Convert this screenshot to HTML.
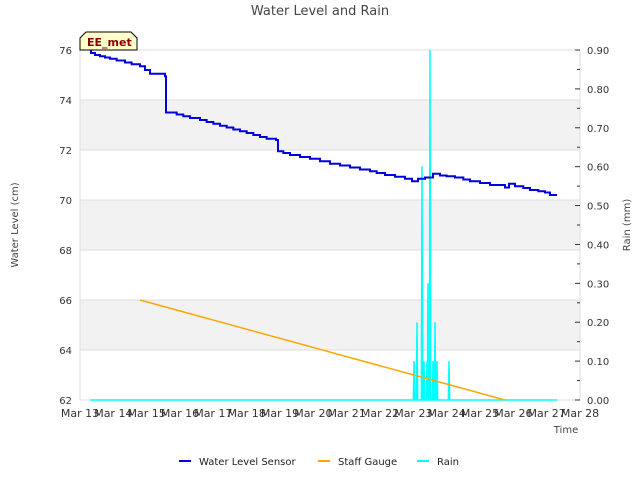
<!DOCTYPE html>
<html><head><meta charset="utf-8"><style>
body{margin:0;background:#fff;font-family:"Liberation Sans","DejaVu Sans",sans-serif;}
svg text{font-family:"DejaVu Sans","Liberation Sans",sans-serif;}
</style></head><body>
<svg id="chart" width="640" height="480" xmlns="http://www.w3.org/2000/svg">
<text x="320" y="15" text-anchor="middle" font-size="13" fill="#444">Water Level and Rain</text>
<g id="bands"></g><g id="grid"></g>
<rect x="80" y="50" width="500" height="350" fill="none" stroke="#ddd"/>
<g id="axes"></g><g id="series"></g>
<g>
<path d="M80,50 L80,38 L86,32 L131,32 L137,38 L137,50 Z" fill="#ffffcc" stroke="#000" stroke-width="1"/>
<text x="87" y="46" font-size="11" font-weight="bold" fill="#8b0000">EE_met</text></g>
<text x="566" y="433" text-anchor="middle" font-size="10" fill="#444">Time</text>
<text x="18" y="225" text-anchor="middle" font-size="10" fill="#444" transform="rotate(-90 18 225)">Water Level (cm)</text>
<text x="630" y="225" text-anchor="middle" font-size="10" fill="#444" transform="rotate(-90 630 225)">Rain (mm)</text>
<g>
<g><line x1="179" y1="461" x2="191" y2="461" stroke="#0000dd" stroke-width="2"/><text x="199" y="465" font-size="10" fill="#222">Water Level Sensor</text></g>
<g><line x1="318" y1="461" x2="330" y2="461" stroke="orange" stroke-width="2"/><text x="338" y="465" font-size="10" fill="#222">Staff Gauge</text></g>
<g><line x1="417" y1="461" x2="429" y2="461" stroke="cyan" stroke-width="2"/><text x="437" y="465" font-size="10" fill="#222">Rain</text></g>
</g>
</svg>
<script>
const xTickLabels=["Mar 13","Mar 14","Mar 15","Mar 16","Mar 17","Mar 18","Mar 19","Mar 20","Mar 21","Mar 22","Mar 23","Mar 24","Mar 25","Mar 26","Mar 27","Mar 28"];
const yTicks=[62,64,66,68,70,72,74,76];
const y2Ticks=[0,0.1,0.2,0.3,0.4,0.5,0.6,0.7,0.8,0.9];
const waterDays=[0.3,0.33,0.45,0.6,0.75,0.9,1.1,1.35,1.55,1.8,1.95,2.1,2.55,2.58,2.9,3.1,3.3,3.6,3.8,4.0,4.2,4.4,4.6,4.8,5.0,5.2,5.4,5.6,5.88,5.94,6.1,6.3,6.6,6.9,7.2,7.5,7.8,8.1,8.4,8.7,8.9,9.15,9.45,9.75,9.96,10.14,10.35,10.59,10.8,11.0,11.25,11.5,11.7,12.0,12.3,12.75,12.87,13.05,13.3,13.5,13.75,13.95,14.1,14.31];
const waterVals=[76.0,75.88,75.8,75.75,75.7,75.65,75.58,75.5,75.43,75.35,75.2,75.05,74.95,73.5,73.42,73.35,73.28,73.2,73.12,73.05,72.97,72.9,72.82,72.75,72.68,72.6,72.52,72.45,72.4,71.95,71.88,71.8,71.72,71.65,71.55,71.45,71.38,71.3,71.22,71.15,71.08,71.0,70.93,70.85,70.75,70.85,70.9,71.05,70.98,70.95,70.9,70.82,70.75,70.68,70.6,70.5,70.65,70.55,70.48,70.4,70.35,70.3,70.2,70.2];
const staffDays=[1.8,12.75];
const staffVals=[66.0,62.0];
const rainDays=[10.02,10.11,10.26,10.32,10.41,10.44,10.5,10.59,10.65,10.71,11.07];
const rainVals=[0.1,0.2,0.6,0.1,0.1,0.3,0.9,0.1,0.2,0.1,0.1];
const NS="http://www.w3.org/2000/svg";
const X=d=>80+d*500/15, Y=v=>400-(v-62)*25, Y2=v=>400-v*350/0.9;
function mk(t,a,p){const e=document.createElementNS(NS,t);for(const k in a)e.setAttribute(k,a[k]);p.appendChild(e);return e;}
const bands=document.getElementById('bands'),grid=document.getElementById('grid'),axes=document.getElementById('axes'),ser=document.getElementById('series');
[[64,66],[68,70],[72,74]].forEach(([a,b])=>{const r=mk('rect',{x:80,y:Y(b),width:500,height:Y(a)-Y(b),fill:'#f2f2f2'},bands);

});
yTicks.forEach(v=>{const l=mk('line',{x1:80,x2:580,y1:Y(v),y2:Y(v),stroke:'#ddd'},grid);


const t=mk('text',{x:72,y:Y(v)+4,'text-anchor':'end','font-size':10,fill:'#333'},axes);t.textContent=v;

});
for(let k=0;k<=18;k++){mk('line',{x1:k%2?577:575,x2:580,y1:Y2(k*0.05),y2:Y2(k*0.05),stroke:'#333'},axes);}
y2Ticks.forEach(v=>{
const t=mk('text',{x:587,y:Y2(v)+4,'font-size':10,fill:'#333'},axes);t.textContent=v.toFixed(2);

});
xTickLabels.forEach((s,i)=>{const t=mk('text',{x:X(i),y:417,'text-anchor':'middle','font-size':11,fill:'#333'},axes);t.textContent=s;

});
let rp=`${X(0.3)},${Y2(0)} `;
rainDays.forEach((d,i)=>{rp+=`${X(d-0.02)},${Y2(0)} ${X(d)},${Y2(rainVals[i])} ${X(d+0.02)},${Y2(0)} `;});
rp+=`${X(14.31)},${Y2(0)}`;
const rl=mk('polyline',{points:rp,fill:'none',stroke:'cyan','stroke-width':1.5},ser);


const sl=mk('polyline',{points:staffDays.map((d,i)=>X(d)+','+Y(staffVals[i])).join(' '),fill:'none',stroke:'orange','stroke-width':1.5},ser);


let wp=[];waterDays.forEach((d,i)=>{if(i>0)wp.push(X(d)+','+Y(waterVals[i-1]));wp.push(X(d)+','+Y(waterVals[i]));});
const wl=mk('polyline',{points:wp.join(' '),fill:'none',stroke:'#0000dd','stroke-width':2},ser);


</script>
</body></html>
